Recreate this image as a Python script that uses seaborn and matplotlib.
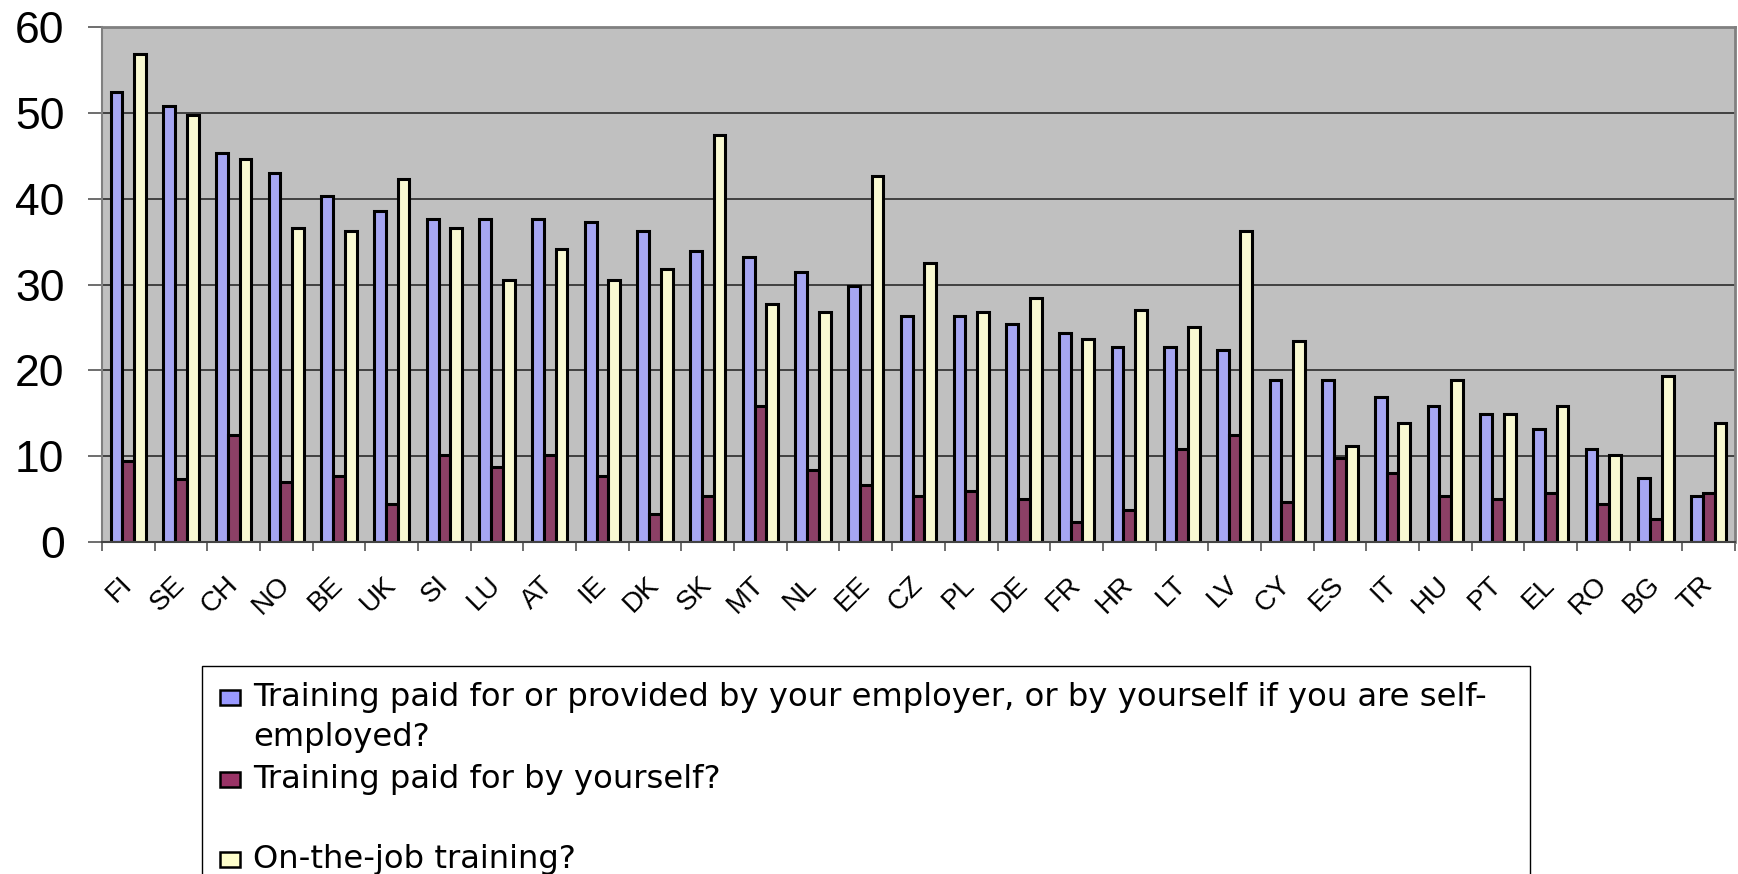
import pandas as pd
import numpy as np
import matplotlib
matplotlib.use("Agg")
import matplotlib.pyplot as plt
import seaborn as sns
from matplotlib.patches import Rectangle

# data
countries = ['FI', 'SE', 'CH', 'NO', 'BE', 'UK', 'SI', 'LU', 'AT', 'IE', 'DK',
             'SK', 'MT', 'NL', 'EE', 'CZ', 'PL', 'DE', 'FR', 'HR', 'LT', 'LV',
             'CY', 'ES', 'IT', 'HU', 'PT', 'EL', 'RO', 'BG', 'TR']
employer = [52.5, 50.8, 45.4, 43.0, 40.3, 38.6, 37.6, 37.6, 37.6, 37.3, 36.3,
            33.9, 33.2, 31.5, 29.8, 26.4, 26.4, 25.4, 24.4, 22.7, 22.7, 22.4,
            18.9, 18.9, 16.9, 15.9, 14.9, 13.2, 10.8, 7.5, 5.4]
yourself = [9.5, 7.4, 12.5, 7.0, 7.7, 4.4, 10.1, 8.8, 10.1, 7.7, 3.3,
            5.4, 15.9, 8.4, 6.7, 5.4, 6.0, 5.0, 2.3, 3.7, 10.8, 12.5,
            4.7, 9.8, 8.1, 5.4, 5.0, 5.7, 4.4, 2.7, 5.7]
on_job = [56.9, 49.8, 44.7, 36.6, 36.2, 42.3, 36.6, 30.5, 34.2, 30.5, 31.8,
          47.4, 27.8, 26.8, 42.7, 32.5, 26.8, 28.5, 23.7, 27.1, 25.1, 36.2,
          23.4, 11.2, 13.9, 18.9, 14.9, 15.9, 10.2, 19.3, 13.9]

series = ['Training paid for or provided by your employer, or by yourself if you are self-\nemployed?',
          'Training paid for by yourself?',
          'On-the-job training?']
colors = ['#9999FF', '#993366', '#FFFFCC']

df = pd.DataFrame({
    'country': countries * 3,
    'value': employer + yourself + on_job,
    'series': [series[0]] * len(countries) + [series[1]] * len(countries) + [series[2]] * len(countries),
})

plt.rcParams['font.family'] = ['Liberation Sans', 'DejaVu Sans']

W, H = 1738, 874
fig = plt.figure(figsize=(W / 100, H / 100), dpi=100)
ax = fig.add_axes([102 / W, 1 - 542 / H, (1735 - 102) / W, (542 - 27.3) / H])

sns.barplot(data=df, x='country', y='value', hue='series', order=countries,
            hue_order=series, palette=colors, width=0.67, errorbar=None,
            edgecolor='black', linewidth=2.2, legend=False, ax=ax)

ax.set_facecolor('#C0C0C0')
ax.set_xlim(-0.5, len(countries) - 0.5)
ax.set_ylim(0, 60)
ax.set_xlabel('')
ax.set_ylabel('')
ax.set_yticks(range(0, 61, 10))
ax.yaxis.grid(True, color='#2a2a2a', linewidth=1.2)
ax.xaxis.grid(False)
ax.set_axisbelow(True)

ax.tick_params(axis='y', labelsize=32, length=10, width=1.2, color='#555555', pad=17)
ax.set_xticks(range(len(countries)))
ax.set_xticklabels(countries)
ax.set_xticks(np.arange(len(countries) + 1) - 0.5, minor=True)
ax.tick_params(axis='x', which='major', length=0, labelsize=20, pad=28)
ax.tick_params(axis='x', which='minor', length=6.5, width=1.2, color='#555555')
for lbl in ax.get_xticklabels():
    lbl.set_rotation(45)
    lbl.set_ha('right')
    lbl.set_va('center')
    lbl.set_rotation_mode('anchor')

for side in ['top', 'right']:
    ax.spines[side].set_color('#808080')
    ax.spines[side].set_linewidth(2)
ax.spines['left'].set_color('#808080')
ax.spines['left'].set_linewidth(1.5)
ax.spines['bottom'].set_color('#444444')
ax.spines['bottom'].set_linewidth(1.5)

# legend box, drawn by hand to keep the Excel layout
fig.add_artist(Rectangle((202 / W, -0.1), (1530 - 202) / W, 0.1 + 1 - 666 / H,
                         transform=fig.transFigure, facecolor='white',
                         edgecolor='black', linewidth=1))
line_baselines = [[706, 746], [788], [868]]
for lab, col, ys in zip(series, colors, line_baselines):
    fig.add_artist(Rectangle((220 / W, 1 - (ys[0] - 1) / H), 20 / W, 15 / H,
                             transform=fig.transFigure, facecolor=col,
                             edgecolor='black', linewidth=1.8))
    for line, yb in zip(lab.split('\n'), ys):
        fig.text(253 / W, 1 - yb / H, line, fontsize=23.2, va='baseline',
                 ha='left', family='DejaVu Sans')

fig.savefig('out.png', dpi=100, facecolor='white')
